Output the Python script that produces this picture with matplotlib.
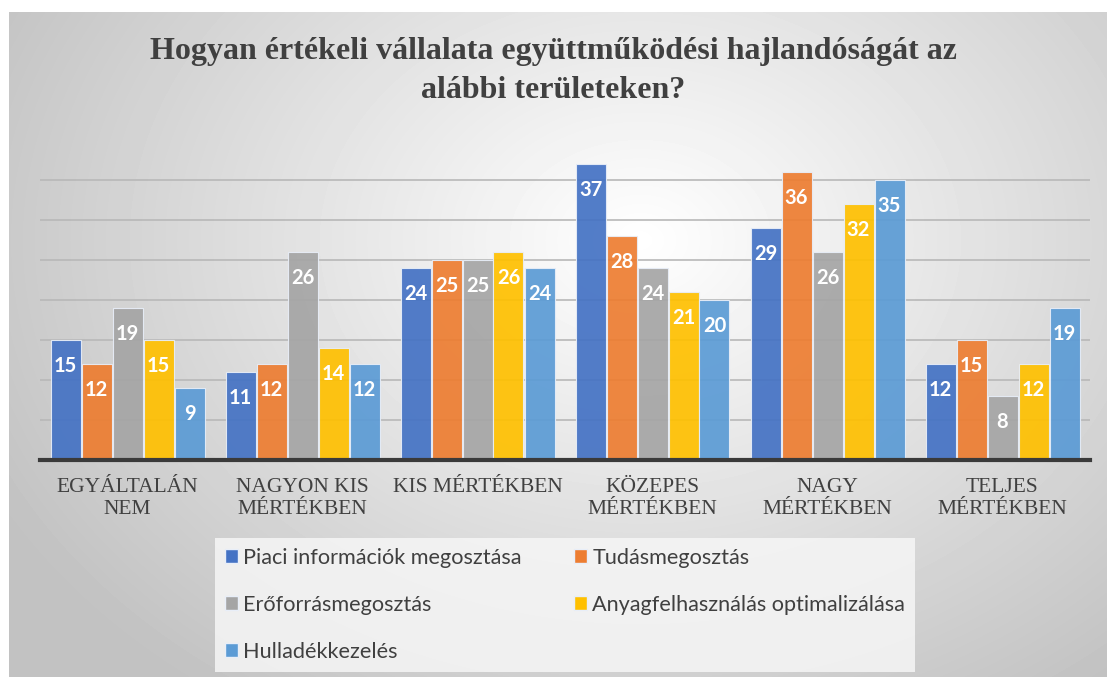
import matplotlib.pyplot as plt
import numpy as np
from matplotlib.patches import Patch

categories = ["EGYÁLTALÁN\nNEM", "NAGYON KIS\nMÉRTÉKBEN", "KIS MÉRTÉKBEN",
              "KÖZEPES\nMÉRTÉKBEN", "NAGY\nMÉRTÉKBEN", "TELJES\nMÉRTÉKBEN"]
series = ["Piaci információk megosztása", "Tudásmegosztás", "Erőforrásmegosztás",
          "Anyagfelhasználás optimalizálása", "Hulladékkezelés"]
piaci = [15, 11, 24, 37, 29, 12]
tudas = [12, 12, 25, 28, 36, 15]
eroforras = [19, 26, 25, 24, 26, 8]
anyag = [15, 14, 26, 21, 32, 12]
hulladek = [9, 12, 24, 20, 35, 19]
values = [piaci, tudas, eroforras, anyag, hulladek]
colors = ["#4472C4", "#ED7D31", "#A5A5A5", "#FFC000", "#5B9BD5"]

W, H = 1107, 677
fig = plt.figure(figsize=(W / 100, H / 100), dpi=100)
fig.patch.set_facecolor("white")

# radial grey background
bg = fig.add_axes([9 / W, 0, 1 - 9 / W, (H - 12) / H])
yy, xx = np.mgrid[12:H, 9:W]
r = np.hypot(xx - 640, (yy - 240) * 1.3) / 760
shade = np.clip(1.0 - 0.25 * r ** 1.0, 0.76, 1.0)
bg.imshow(shade, cmap="gray", vmin=0, vmax=1, aspect="auto", interpolation="bilinear")
bg.axis("off")

ax = fig.add_axes([40 / W, 217 / H, 1050 / W, 320 / H])
ax.patch.set_alpha(0)
x = np.arange(len(categories))
slot = 31 / 175
bw = 30 / 175
for i, (vals, col) in enumerate(zip(values, colors)):
    pos = x + (i - 2) * slot
    bars = ax.bar(pos, vals, width=bw, color=col, alpha=0.92,
                  edgecolor="#e8eef8", linewidth=0.8, zorder=3)
    for b, v in zip(bars, vals):
        ax.text(b.get_x() + b.get_width() / 2, v - 3.2, str(v), ha="center", va="center",
                color="white", fontsize=14.5, fontweight="bold", family="Lato", zorder=4)

ax.set_xlim(-0.5, len(categories) - 0.5)
ax.set_ylim(0, 40)
ax.set_yticks([5, 10, 15, 20, 25, 30, 35])
ax.yaxis.grid(True, color="#b8b8b8", linewidth=1.2, zorder=0)
ax.tick_params(axis="y", length=0, labelleft=False)
ax.tick_params(axis="x", length=0, pad=13)
for s in ["top", "right", "left"]:
    ax.spines[s].set_visible(False)
ax.spines["bottom"].set_color("#3a3a3a")
ax.spines["bottom"].set_linewidth(3)
ax.spines["bottom"].set_zorder(5)
ax.set_xticks(x)
ax.set_xticklabels(categories, family="Liberation Serif", fontsize=15.5,
                   color="#404040", linespacing=1.2)
ax.set_axisbelow(True)

fig.text(0.5, 1 - 52 / H, "Hogyan értékeli vállalata együttműködési hajlandóságát az",
         ha="center", va="center", family="Liberation Serif", fontweight="bold",
         fontsize=23, color="#404040")
fig.text(0.5, 1 - 90 / H, "alábbi területeken?", ha="center", va="center",
         family="Liberation Serif", fontweight="bold", fontsize=23, color="#404040")

order = [0, 2, 4, 1, 3]
handles = [Patch(facecolor=colors[k], edgecolor="#e8eef8", label=series[k]) for k in order]
leg = fig.legend(handles=handles, ncol=2, loc="upper left", mode="expand",
                 bbox_to_anchor=(215 / W, 1 - 668 / H, 700 / W, 130 / H),
                 prop={"family": "Lato", "size": 15.6}, frameon=True, fancybox=False,
                 handlelength=0.6, handleheight=0.6, handletextpad=0.25,
                 labelspacing=1.25, borderpad=0.45, borderaxespad=0)
leg.get_frame().set_facecolor("#f6f6f6")
leg.get_frame().set_edgecolor("none")
leg.get_frame().set_alpha(0.85)
for t in leg.get_texts():
    t.set_color("#404040")

fig.savefig("out.png", dpi=100)
